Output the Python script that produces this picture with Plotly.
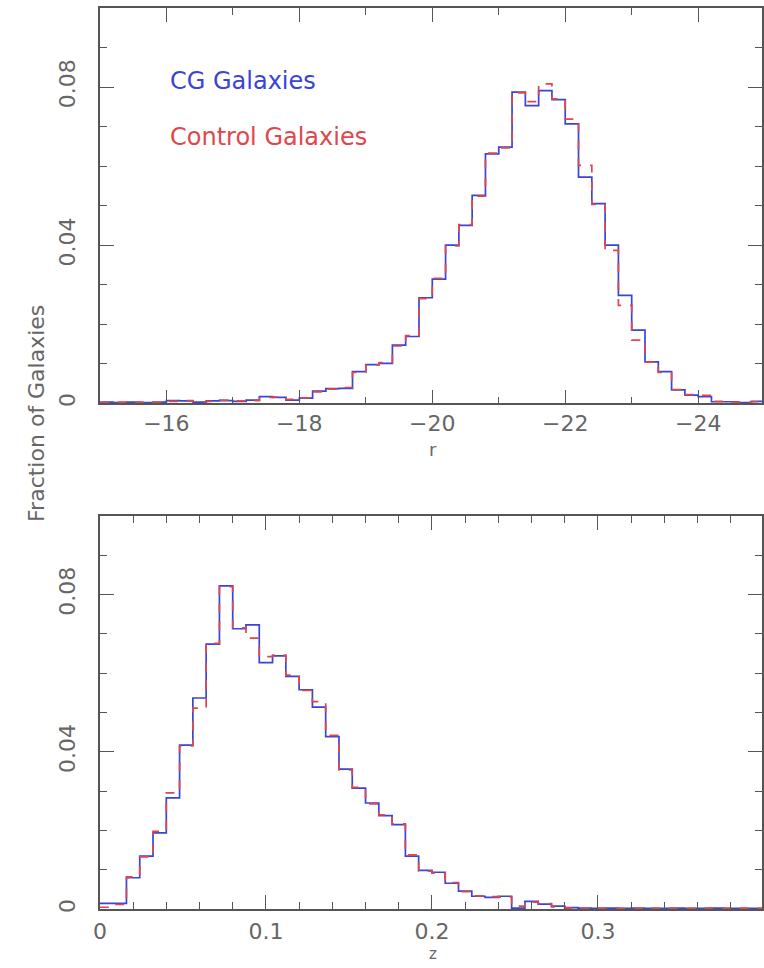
import numpy as np
import plotly.graph_objects as go

# Absolute r-band magnitude histograms (fraction of galaxies per 0.2 mag bin)
R_START, R_STEP = -15.0, -0.2
cg_r = [0.0003, 0.0002, 0.0003, 0.0002, 0.0003, 0.0007, 0.0006, 0.0003, 0.0006, 0.0007,
        0.0005, 0.0008, 0.0017, 0.0015, 0.0008, 0.0013, 0.0031, 0.0037, 0.0038, 0.0080,
        0.0098, 0.0101, 0.0147, 0.0169, 0.0267, 0.0314, 0.0400, 0.0450, 0.0526, 0.0631,
        0.0648, 0.0787, 0.0753, 0.0791, 0.0768, 0.0707, 0.0572, 0.0505, 0.0400, 0.0273,
        0.0185, 0.0105, 0.0080, 0.0034, 0.0021, 0.0017, 0.0004, 0.0004, 0.0002, 0.0005]
ctrl_r = [0.0002, 0.0003, 0.0002, 0.0003, 0.0002, 0.0005, 0.0007, 0.0004, 0.0005, 0.0008,
          0.0006, 0.0007, 0.0015, 0.0016, 0.0010, 0.0014, 0.0029, 0.0036, 0.0040, 0.0078,
          0.0097, 0.0103, 0.0145, 0.0171, 0.0265, 0.0316, 0.0398, 0.0452, 0.0524, 0.0633,
          0.0646, 0.0785, 0.0763, 0.0808, 0.0770, 0.0719, 0.0602, 0.0503, 0.0387, 0.0248,
          0.0160, 0.0104, 0.0078, 0.0035, 0.0022, 0.0020, 0.0005, 0.0003, 0.0003, 0.0004]

# Redshift histograms (fraction of galaxies per 0.008 bin)
Z_START, Z_STEP = 0.0, 0.008
cg_z = [0.0015, 0.0015, 0.0080, 0.0135, 0.0194, 0.0283, 0.0417, 0.0537, 0.0674, 0.0822,
        0.0713, 0.0723, 0.0627, 0.0644, 0.0592, 0.0558, 0.0514, 0.0439, 0.0356, 0.0308,
        0.0270, 0.0238, 0.0215, 0.0135, 0.0099, 0.0094, 0.0066, 0.0046, 0.0033, 0.0030,
        0.0033, 0.0003, 0.0020, 0.0013, 0.0008, 0.0004, 0.0003, 0.0002, 0.0003, 0.0002,
        0.0003, 0.0002, 0.0002, 0.0003, 0.0002, 0.0002, 0.0003, 0.0002, 0.0002, 0.0002]
ctrl_z = [0.0005, 0.0012, 0.0082, 0.0133, 0.0198, 0.0296, 0.0415, 0.0511, 0.0676, 0.0820,
          0.0715, 0.0689, 0.0642, 0.0646, 0.0595, 0.0556, 0.0528, 0.0442, 0.0354, 0.0310,
          0.0268, 0.0240, 0.0217, 0.0138, 0.0097, 0.0092, 0.0068, 0.0045, 0.0034, 0.0032,
          0.0031, 0.0008, 0.0018, 0.0014, 0.0006, 0.0003, 0.0002, 0.0003, 0.0002, 0.0002,
          0.0002, 0.0003, 0.0002, 0.0002, 0.0002, 0.0003, 0.0002, 0.0002, 0.0003, 0.0002]

r_ticks = [-16, -18, -20, -22, -24]
z_ticks = [0, 0.1, 0.2, 0.3]
frac_ticks = [0, 0.04, 0.08]
frac_labels = ["0", "0.04", "0.08"]

BLUE = "#3a44d6"
RED = "#e0474c"
AXC = "#555555"
TXC = "#666666"
FONT = "DejaVu Sans"


def step_xy(start, step, values):
    edges = start + step * np.arange(len(values) + 1)
    return edges, list(values) + [values[-1]]


fig = go.Figure()
for (start, step, vals, color, dash, ax) in [
    (R_START, R_STEP, cg_r, BLUE, "solid", ("x", "y")),
    (R_START, R_STEP, ctrl_r, RED, "dash", ("x", "y")),
    (Z_START, Z_STEP, cg_z, BLUE, "solid", ("x2", "y2")),
    (Z_START, Z_STEP, ctrl_z, RED, "dash", ("x2", "y2")),
]:
    xs, ys = step_xy(start, step, vals)
    fig.add_trace(go.Scatter(x=xs, y=ys, mode="lines", line_shape="hv",
                             line=dict(color=color, width=1.7, dash=dash),
                             xaxis=ax[0], yaxis=ax[1], showlegend=False,
                             hoverinfo="skip"))

tickfont = dict(family=FONT, size=22, color=TXC)
common = dict(showline=True, linecolor=AXC, linewidth=1.5, mirror="ticks",
              ticks="inside", tickcolor=AXC, tickwidth=1.3, showgrid=False,
              zeroline=False, tickfont=tickfont)


def minor(d):
    return dict(dtick=d, tick0=0, ticklen=7, ticks="inside", tickcolor=AXC)


X_DOM = [94 / 764, 1.0]
fig.update_layout(
    width=764, height=968, margin=dict(l=0, r=0, t=0, b=0),
    paper_bgcolor="white", plot_bgcolor="white",
    xaxis=dict(domain=X_DOM, anchor="y", range=[-15, -24.96], tickvals=r_ticks,
               ticklen=14, minor=minor(1), **common),
    yaxis=dict(domain=[1 - 405 / 968, 1 - 8 / 968], anchor="x", range=[0, 0.1],
               tickvals=frac_ticks, ticktext=frac_labels, tickangle=-90, ticklen=14,
               ticklabelstandoff=14, minor=minor(0.01), **common),
    xaxis2=dict(domain=X_DOM, anchor="y2", range=[0, 0.3988], tickvals=z_ticks,
                ticklen=14, ticklabelstandoff=2, minor=minor(0.02), **common),
    yaxis2=dict(domain=[1 - 913 / 968, 1 - 518 / 968], anchor="x2", range=[0, 0.1],
                tickvals=frac_ticks, ticktext=frac_labels, tickangle=-90, ticklen=14,
                ticklabelstandoff=14, minor=minor(0.01), **common),
)

fig.add_annotation(text="CG Galaxies", x=163 / 764, y=1 - 81 / 968, xref="paper",
                   yref="paper", xanchor="left", yanchor="middle", showarrow=False,
                   font=dict(family=FONT, size=24, color=BLUE))
fig.add_annotation(text="Control Galaxies", x=163 / 764, y=1 - 138 / 968, xref="paper",
                   yref="paper", xanchor="left", yanchor="middle", showarrow=False,
                   font=dict(family=FONT, size=24, color=RED))
fig.add_annotation(text="r", x=431 / 764, y=1 - 451 / 968, xref="paper", yref="paper",
                   xanchor="center", yanchor="middle", showarrow=False,
                   font=dict(family=FONT, size=18, color=TXC))
fig.add_annotation(text="z", x=431 / 764, y=0, xref="paper", yref="paper",
                   xanchor="center", yanchor="bottom", showarrow=False, borderpad=0,
                   font=dict(family=FONT, size=15, color=TXC))
fig.add_annotation(text="Fraction of Galaxies", x=30 / 764, y=1 - 415 / 968,
                   xref="paper", yref="paper", xanchor="center", yanchor="middle",
                   textangle=-90, showarrow=False,
                   font=dict(family=FONT, size=22, color=TXC))

fig.write_html("out.html")
